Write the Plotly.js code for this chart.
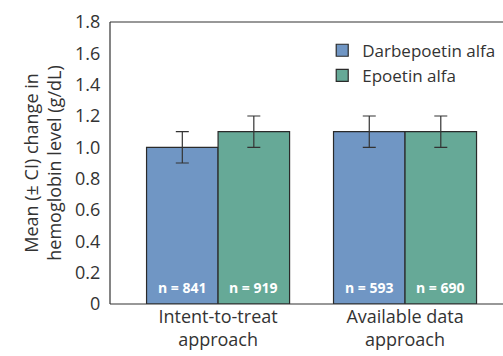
<!DOCTYPE html>
<html>
<head>
<meta charset="utf-8">
<script src="https://cdn.plot.ly/plotly-3.0.1.min.js"></script>
<style>html,body{margin:0;padding:0;background:#fff;overflow:hidden;}</style>
</head>
<body>
<div id="chart" style="width:503px;height:356px;"></div>
<script>
const categories = ["Intent-to-treat<br>approach", "Available data<br>approach"];
const seriesNames = ["Darbepoetin alfa", "Epoetin alfa"];
const darbeMean = [1.0, 1.1];
const epoetinMean = [1.1, 1.1];
const darbeCI = [0.1, 0.1];
const epoetinCI = [0.1, 0.1];
const darbeN = ["n = 841", "n = 593"];
const epoetinN = ["n = 919", "n = 690"];
const yTickVals = [0, 0.2, 0.4, 0.6, 0.8, 1.0, 1.2, 1.4, 1.6, 1.8];
const yTickText = ["0", "0.2", "0.4", "0.6", "0.8", "1.0", "1.2", "1.4", "1.6", "1.8"];

const colors = ["#7096c4", "#66a997"];
const FONT = "Open Sans, sans-serif";
const catPos = categories.map((c, i) => i);

function barTrace(name, y, ci, color) {
  return {
    type: "bar", name: name, x: catPos, y: y,
    marker: {color: color, line: {color: "#2a2a2a", width: 1.2}},
    error_y: {type: "data", array: ci, visible: true, color: "#333", thickness: 1.2, width: 6.5},
    hoverinfo: "none"
  };
}

const data = [
  barTrace(seriesNames[0], darbeMean, darbeCI, colors[0]),
  barTrace(seriesNames[1], epoetinMean, epoetinCI, colors[1])
];

const bargap = 0.235;
const halfBar = (1 - bargap) / 4;
const annotations = [];
categories.forEach((c, i) => {
  [[darbeN, -1], [epoetinN, 1]].forEach(([arr, s]) => {
    annotations.push({
      x: i + s * halfBar, y: 0, xref: "x", yref: "y",
      text: "<b>" + arr[i] + "</b>", showarrow: false,
      yanchor: "middle", yshift: 17,
      font: {family: FONT, size: 14, color: "#ffffff"}
    });
  });
});

const axisLine = {color: "#333", width: 1.2};
const layout = {
  width: 503, height: 356,
  margin: {l: 110, r: 0, t: 22, b: 52},
  paper_bgcolor: "#fff", plot_bgcolor: "#fff",
  barmode: "group", bargap: bargap, bargroupgap: 0,
  font: {family: FONT, color: "#333"},
  showlegend: true,
  legend: {x: 0.54, y: 0.962, xanchor: "left", yanchor: "top",
           font: {family: FONT, size: 17, color: "#333"}, tracegroupgap: 0,
           bgcolor: "rgba(0,0,0,0)"},
  xaxis: {
    type: "linear", range: [-0.578, 1.524],
    tickvals: catPos, ticktext: categories,
    showline: false, ticks: "", showgrid: false, zeroline: false,
    tickfont: {family: FONT, size: 18, color: "#333"}
  },
  yaxis: {
    range: [0, 1.8], tickvals: yTickVals, ticktext: yTickText,
    showline: false, ticks: "outside", ticklen: 5, tickcolor: "rgba(0,0,0,0)",
    showgrid: false, zeroline: false,
    tickfont: {family: FONT, size: 18, color: "#333"},
    title: {text: "Mean (± CI) change in<br>hemoglobin level (g/dL)", font: {family: FONT, size: 18, color: "#333"}, standoff: 8}
  },
  shapes: [
    {type: "line", xref: "paper", yref: "paper", x0: 0, x1: 0, y0: 0, y1: 1, line: axisLine},
    {type: "line", xref: "paper", yref: "paper", x0: 0, x1: 1, y0: 1, y1: 1, line: axisLine},
    {type: "line", xref: "paper", yref: "paper", x0: 0, x1: 1, y0: 0, y1: 0, line: axisLine}
  ],
  annotations: annotations
};

Plotly.newPlot("chart", data, layout, {displayModeBar: false, staticPlot: true});
</script>
</body>
</html>
